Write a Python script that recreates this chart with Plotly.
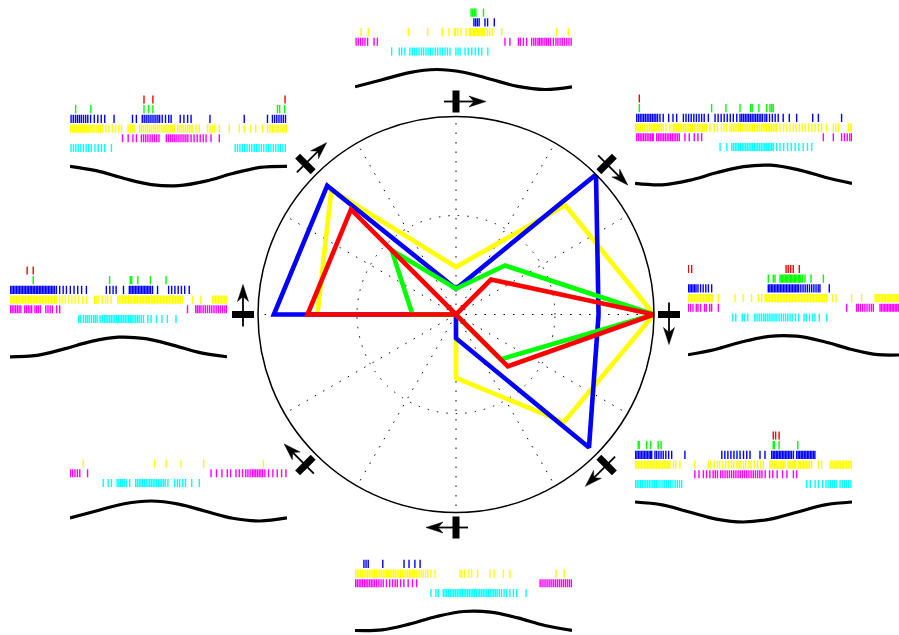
import math
import plotly.graph_objects as go

W, H = 899, 635

# ---------------- polar tuning curves ----------------
ANGLES = [0, 45, 90, 135, 180, 225, 270, 315]
R_YELLOW = [1.00, 0.78, 0.24, 0.89, 0.70, 0.00, 0.32, 0.77]
R_BLUE = [0.72, 1.00, 0.13, 0.92, 0.92, 0.00, 0.12, 0.95]
R_GREEN = [1.00, 0.35, 0.13, 0.46, 0.22, 0.00, 0.00, 0.32]
R_RED = [1.00, 0.25, 0.00, 0.75, 0.75, 0.00, 0.00, 0.37]

ROW_COLORS = ["#ff0000", "#00ff00", "#0000ff", "#ffff00", "#ff00ff", "#00ffff"]

# ---------------- spike rasters (time in % of sweep) ----------------
# top panel (stimulus at 90 deg)
P090_RED = []
P090_GREEN = [53.5, 54.2, 55.0, 55.7, 59.2]
P090_BLUE = [54.8, 55.6, 56.4, 57.2, 59.9, 61.1, 64.2]
P090_YELLOW = [2.8, 6.1, 24.6, 33.5, 40.2, 43.3, 45.8, 46.3, 47.3, 48.8, 51.2, 52.7, 53.3, 53.9, 54.5,
               55.1, 55.7, 56.3, 56.9, 57.5, 58.1, 58.7, 59.3, 59.9, 61.0, 62.0, 63.2, 67.6, 92.9, 98.3]
P090_MAGENTA = [0.5, 1.5, 2.6, 3.6, 4.6, 5.8, 8.8, 10.3, 69.1, 71.4, 75.3, 76.2, 77.6, 79.1, 81.4, 82.4,
                83.3, 84.3, 85.0, 85.8, 86.6, 87.5, 88.3, 89.2, 90.1, 91.4, 92.6, 93.5, 94.5, 95.5, 96.5,
                97.6, 98.6, 99.6]
P090_CYAN = [16.9, 20.4, 21.5, 23.0, 25.3, 26.4, 27.4, 28.5, 29.5, 30.6, 31.6, 32.7, 33.7, 34.8, 35.9,
             37.0, 38.1, 39.2, 40.3, 41.5, 42.6, 43.8, 46.5, 47.5, 48.4, 50.7, 52.2, 53.8, 55.4, 56.9,
             58.4, 61.2]

# top-left panel (135 deg)
P135_RED = [34.1, 38.2, 99.1]
P135_GREEN = [2.6, 9.6, 34.1, 36.2, 38.2, 95.6, 96.6, 98.9]
P135_BLUE = [0.5, 1.5, 2.5, 3.4, 4.3, 5.2, 6.2, 7.2, 8.2, 9.5, 11.2, 12.8, 14.4, 16.0, 20.3, 28.8, 30.6,
             33.3, 34.2, 35.1, 36.0, 36.9, 37.8, 38.7, 39.6, 40.5, 41.3, 42.5, 44.0, 45.5, 46.6, 50.8,
             52.5, 54.2, 55.8, 64.5, 80.3, 91.0, 93.3, 94.3, 95.3, 96.3, 97.3, 98.3, 99.3]
P135_YELLOW = [0.3, 1.2, 2.1, 3.0, 3.9, 4.8, 5.7, 6.6, 7.5, 8.4, 9.3, 10.2, 11.1, 12.0, 13.0, 14.0, 15.0,
               16.5, 18.0, 19.5, 21.0, 22.5, 23.7, 26.8, 27.8, 29.0, 29.8, 32.1, 33.0, 33.9, 34.8, 35.7,
               36.6, 37.5, 38.4, 39.3, 40.2, 41.1, 42.0, 42.9, 43.8, 44.7, 45.6, 46.5, 47.4, 48.2, 49.7,
               50.6, 51.5, 52.4, 53.3, 54.2, 55.1, 56.0, 56.6, 58.1, 59.6, 63.4, 64.5, 65.5, 66.5, 68.8,
               73.4, 78.0, 80.3, 83.3, 85.6, 88.7, 91.0, 92.2, 93.3, 94.5, 95.4, 96.3, 97.2, 98.1, 99.0,
               99.8]
P135_MAGENTA = [24.2, 26.8, 29.0, 30.6, 32.9, 33.9, 34.9, 35.9, 36.9, 37.9, 38.9, 39.9, 41.0, 44.4, 45.3,
                46.2, 47.1, 48.0, 48.9, 49.8, 50.7, 51.6, 52.5, 53.4, 54.3, 55.8, 57.2, 58.6, 60.0, 61.4,
                62.7, 65.0, 68.8]
P135_CYAN = [0.5, 1.6, 2.7, 3.8, 5.0, 6.2, 7.4, 8.6, 9.8, 11.5, 13.0, 14.5, 16.0, 19.1, 76.1, 77.2, 78.3,
             79.4, 80.5, 81.6, 82.7, 83.8, 84.9, 86.0, 87.1, 88.2, 89.3, 90.4, 91.5, 92.6, 93.7, 94.8,
             95.9, 97.0, 98.1, 99.2]

# top-right panel (45 deg)
P045_RED = [2.0]
P045_GREEN = [2.0, 35.3, 41.9, 48.4, 53.3, 54.0, 57.1, 60.7, 62.2, 63.0, 63.7]
P045_BLUE = [0.8, 1.6, 2.4, 3.2, 4.0, 4.8, 5.6, 6.4, 7.2, 8.0, 8.8, 9.6, 10.4, 11.5, 13.0, 15.5, 17.5,
             19.2, 22.3, 23.5, 24.7, 25.9, 27.1, 28.3, 29.5, 30.7, 31.9, 33.8, 36.9, 38.3, 39.7, 41.1,
             42.5, 43.9, 45.3, 46.9, 48.4, 49.2, 50.0, 50.8, 51.6, 52.4, 53.2, 54.0, 54.8, 55.6, 56.4,
             57.2, 58.0, 58.8, 59.9, 60.7, 62.0, 63.3, 64.6, 66.0, 68.3, 71.1, 74.5, 81.9, 84.5, 95.2]
P045_YELLOW = [0.3, 1.0, 1.8, 2.6, 3.4, 4.2, 5.0, 5.8, 6.6, 7.4, 8.2, 9.0, 9.8, 10.6, 11.4, 12.2, 13.0,
               14.3, 16.1, 17.6, 18.4, 19.2, 20.0, 20.8, 21.6, 22.4, 23.2, 24.0, 24.8, 25.6, 26.4, 27.2,
               28.0, 28.8, 29.6, 30.4, 31.2, 32.0, 33.0, 34.6, 36.5, 38.0, 39.8, 41.0, 42.3, 43.8, 44.6,
               45.4, 46.2, 47.0, 47.8, 48.6, 49.4, 50.2, 51.0, 51.8, 52.6, 53.4, 54.2, 55.0, 55.8, 56.6,
               57.4, 58.2, 59.0, 59.8, 60.6, 61.4, 62.2, 63.0, 63.8, 64.6, 65.3, 66.8, 68.5, 70.0, 71.4,
               72.9, 74.2, 75.8, 77.0, 78.5, 80.0, 81.5, 83.0, 84.5, 86.0, 88.3, 91.4, 92.5, 93.7, 98.3,
               99.1, 99.8]
P045_MAGENTA = [0.8, 1.6, 2.4, 3.2, 4.0, 4.8, 5.6, 6.4, 7.2, 8.0, 8.4, 10.0, 10.8, 11.6, 12.4, 13.2, 14.0,
                14.8, 15.6, 16.4, 17.2, 18.0, 18.8, 19.6, 20.4, 23.0, 25.0, 27.3, 29.0, 30.7, 86.8, 91.4,
                95.2, 96.5, 97.8, 99.0, 99.8]
P045_CYAN = [39.2, 42.3, 44.6, 45.4, 46.2, 47.0, 47.8, 48.6, 49.4, 50.2, 51.0, 51.8, 52.6, 53.4, 54.2,
             55.0, 55.8, 56.6, 57.4, 58.2, 59.0, 59.8, 60.6, 61.4, 62.2, 63.0, 63.7, 65.3, 66.8, 68.5,
             70.3, 72.0, 73.8, 75.5, 77.5, 79.5, 81.4]

# right panel (0 deg)
P000_RED = [0.2, 1.7, 45.2, 46.2, 47.3, 48.5, 51.3]
P000_GREEN = [37.0, 39.3, 40.1, 42.4, 43.0, 43.6, 44.2, 44.8, 45.4, 46.0, 46.6, 47.2, 47.8, 48.4, 49.0,
              49.6, 50.2, 50.8, 51.4, 52.0, 52.8, 53.9, 56.7, 62.4]
P000_BLUE = [0.2, 0.9, 1.6, 2.3, 3.0, 3.7, 4.6, 5.8, 7.0, 8.2, 9.4, 10.9, 37.0, 37.7, 38.4, 39.1, 39.8,
             40.5, 41.2, 41.9, 42.6, 43.3, 44.0, 44.7, 45.4, 46.1, 46.8, 47.5, 48.2, 48.9, 49.6, 50.3,
             51.0, 52.0, 53.0, 54.0, 55.0, 56.0, 57.0, 58.0, 59.0, 60.0, 60.8, 65.1]
P000_YELLOW = [0.2, 0.9, 1.6, 2.3, 3.0, 3.7, 4.4, 5.1, 5.8, 6.5, 7.2, 7.9, 8.6, 9.3, 10.0, 10.7, 11.4,
               14.0, 21.7, 25.5, 29.3, 32.4, 33.9, 35.5, 36.2, 36.9, 37.6, 38.3, 39.0, 39.7, 40.4, 41.1,
               41.8, 42.5, 43.2, 43.9, 44.6, 45.3, 46.0, 46.7, 47.4, 48.1, 48.8, 49.5, 50.2, 50.9, 51.6,
               52.3, 53.0, 53.7, 54.4, 55.1, 55.8, 56.5, 57.2, 57.9, 58.6, 59.3, 60.0, 60.7, 61.4, 62.1,
               62.8, 63.9, 66.7, 68.2, 75.4, 80.0, 86.2, 86.9, 87.6, 88.3, 89.0, 89.7, 90.4, 91.1, 91.8,
               92.5, 93.2, 93.9, 94.6, 95.3, 96.0, 96.9]
P000_MAGENTA = [0.2, 1.2, 2.3, 3.8, 4.6, 5.8, 7.6, 8.4, 10.0, 10.9, 14.0, 73.1, 77.7, 78.5, 79.5, 80.5,
                81.5, 82.5, 83.5, 84.5, 85.4, 88.5, 89.2, 89.9, 90.6, 91.3, 92.0, 92.7, 93.4, 94.1, 94.8,
                95.5, 96.2, 96.9]
P000_CYAN = [20.6, 22.0, 25.0, 26.0, 27.5, 30.8, 31.8, 32.8, 33.8, 34.8, 35.6, 36.5, 37.4, 38.3, 39.2,
             40.1, 41.0, 42.0, 43.0, 44.0, 45.0, 46.0, 47.0, 48.0, 49.5, 51.0, 53.5, 54.5, 56.0, 57.5,
             58.5, 60.5, 63.9]

# bottom-right panel (315 deg)
P315_RED = [63.7, 64.8, 66.4]
P315_GREEN = [1.5, 1.9, 5.4, 7.2, 10.7, 12.0, 63.7, 64.2, 66.4, 75.0]
P315_BLUE = [0.2, 0.9, 1.6, 2.3, 3.0, 3.7, 4.4, 5.1, 5.8, 6.5, 7.2, 7.7, 9.2, 10.0, 11.0, 12.0, 13.0,
             14.2, 15.5, 16.9, 23.0, 40.0, 41.4, 42.8, 44.2, 45.6, 47.0, 48.4, 50.0, 51.5, 53.0, 57.6,
             59.9, 63.0, 63.7, 64.4, 65.1, 65.8, 66.5, 67.2, 67.9, 68.6, 69.3, 70.0, 70.7, 71.4, 72.1,
             73.0, 74.5, 75.2, 75.9, 76.6, 77.3, 78.0, 78.7, 79.4, 80.1, 80.8, 81.5, 82.2, 82.9]
P315_YELLOW = [0.2, 0.9, 1.6, 2.3, 3.0, 3.7, 4.4, 5.1, 5.8, 6.5, 7.2, 7.9, 8.6, 9.3, 10.0, 10.7, 11.4,
               12.1, 12.8, 13.5, 14.2, 14.9, 15.6, 16.1, 17.7, 18.8, 20.7, 27.6, 33.8, 35.0, 36.5, 38.0,
               39.0, 40.5, 41.8, 43.0, 44.5, 45.5, 47.0, 48.0, 48.8, 50.0, 51.0, 52.5, 53.5, 55.0, 56.5,
               58.0, 59.1, 62.2, 62.9, 63.6, 64.3, 65.0, 65.7, 66.4, 67.1, 67.8, 68.5, 69.2, 70.6, 71.3,
               72.0, 72.7, 73.4, 74.1, 75.5, 76.2, 76.9, 77.6, 78.3, 79.0, 79.7, 80.4, 81.4, 84.5, 86.0,
               89.9, 90.6, 91.3, 92.0, 92.7, 93.4, 94.1, 94.8, 95.5, 96.2, 96.9, 97.6, 98.3, 99.0, 99.7]
P315_MAGENTA = [27.6, 29.5, 31.5, 33.0, 34.5, 36.0, 37.0, 38.0, 39.5, 40.5, 41.5, 42.5, 43.5, 44.5, 45.5,
                46.5, 47.5, 48.5, 49.5, 50.5, 51.5, 52.5, 53.5, 54.5, 55.5, 56.5, 57.5, 58.5, 60.0, 62.0,
                63.5, 65.5, 68.0, 70.0, 73.0, 74.5]
P315_CYAN = [0.2, 1.0, 1.8, 2.6, 3.4, 4.2, 5.0, 5.8, 6.6, 7.4, 8.2, 9.0, 9.8, 10.6, 11.5, 12.5, 13.5,
             14.5, 15.5, 16.5, 17.5, 18.5, 19.5, 20.5, 21.5, 79.1, 80.8, 83.0, 84.5, 86.5, 88.0, 89.0,
             90.0, 91.0, 92.0, 93.0, 94.5, 95.5, 96.5, 97.5, 98.5, 99.5]

# bottom panel (270 deg)
P270_RED = []
P270_GREEN = []
P270_BLUE = [4.1, 5.1, 6.1, 12.8, 22.6, 24.9, 27.6, 30.0]
P270_YELLOW = [0.2, 1.0, 1.8, 2.6, 3.4, 4.2, 5.0, 5.8, 6.6, 7.4, 8.2, 9.0, 9.8, 10.6, 11.4, 12.2, 13.0,
               13.8, 14.6, 15.4, 16.2, 17.0, 17.8, 18.6, 19.4, 20.2, 21.0, 21.8, 22.6, 23.4, 24.2, 25.0,
               25.8, 26.6, 27.4, 28.5, 29.5, 30.5, 31.5, 32.5, 33.5, 35.0, 36.9, 48.4, 49.2, 50.5, 52.5,
               53.8, 56.5, 62.2, 64.1, 68.4, 71.4, 92.6, 96.4]
P270_MAGENTA = [0.3, 1.1, 1.9, 2.7, 3.5, 4.3, 5.1, 5.9, 6.7, 7.5, 8.3, 9.1, 10.0, 11.0, 12.0, 13.0, 14.5,
                16.0, 17.3, 18.5, 19.5, 21.0, 22.5, 24.5, 26.5, 28.4, 85.3, 86.2, 87.1, 88.0, 88.9, 89.8,
                90.7, 91.6, 92.5, 93.4, 94.3, 95.2, 96.1, 97.0, 97.9, 98.8, 99.7]
P270_CYAN = [35.0, 37.3, 38.4, 40.7, 41.5, 42.3, 43.1, 43.9, 44.7, 45.5, 46.3, 47.1, 47.9, 48.7, 49.5,
             50.3, 51.1, 51.9, 52.7, 53.5, 54.3, 55.1, 55.9, 56.7, 57.5, 58.3, 59.1, 59.9, 60.7, 61.5,
             62.3, 63.1, 63.9, 64.7, 65.5, 66.5, 67.5, 68.7, 69.9, 71.4, 73.0, 74.5, 78.8]

# bottom-left panel (225 deg)
P225_RED = []
P225_GREEN = []
P225_BLUE = []
P225_YELLOW = [6.1, 39.0, 44.3, 51.2, 61.6, 89.1]
P225_MAGENTA = [0.3, 1.2, 2.3, 3.4, 4.5, 8.1, 65.0, 67.5, 70.0, 72.5, 74.0, 76.5, 78.0, 79.5, 81.0, 82.0,
                83.0, 84.0, 84.8, 85.6, 86.4, 87.2, 88.0, 88.8, 89.8, 91.5, 93.5, 95.5, 97.5, 99.5]
P225_CYAN = [15.3, 17.6, 19.1, 21.7, 22.5, 23.3, 24.1, 25.0, 26.0, 27.5, 30.3, 31.1, 31.9, 32.7, 33.5,
             34.3, 35.1, 35.9, 36.7, 37.5, 38.3, 39.1, 39.9, 40.7, 41.5, 42.3, 43.1, 43.9, 45.1, 48.2,
             49.5, 50.5, 52.0, 53.2, 56.1, 59.6]

# left panel (180 deg)
P180_RED = [7.9, 10.7]
P180_GREEN = [10.7, 45.9, 55.4, 56.1, 58.9, 64.7, 71.9]
P180_BLUE = [0.2, 0.9, 1.6, 2.3, 3.0, 3.7, 4.4, 5.1, 5.8, 6.5, 7.2, 7.9, 8.6, 9.3, 10.0, 10.7, 11.4, 12.1,
             12.8, 13.5, 14.2, 14.9, 15.6, 16.3, 17.0, 17.7, 18.4, 19.1, 19.8, 20.5, 21.4, 22.9, 24.5,
             26.0, 27.8, 29.5, 31.2, 33.0, 35.2, 44.4, 46.0, 47.5, 48.9, 52.3, 55.0, 55.7, 56.4, 57.1,
             57.8, 58.5, 59.2, 59.9, 60.6, 61.3, 62.0, 62.7, 63.4, 64.1, 64.8, 65.7, 68.0, 73.1, 74.5,
             76.0, 77.5, 79.0, 80.5, 82.6]
P180_YELLOW = [0.2, 0.9, 1.6, 2.3, 3.0, 3.7, 4.4, 5.1, 5.8, 6.5, 7.2, 7.9, 8.6, 9.3, 10.0, 10.7, 11.4,
               12.1, 12.8, 13.5, 14.2, 14.9, 15.6, 16.3, 17.0, 17.7, 18.4, 19.1, 19.8, 20.5, 21.4, 22.9,
               24.0, 25.5, 27.0, 28.5, 30.0, 31.5, 33.5, 35.2, 39.0, 40.0, 41.0, 42.5, 44.0, 45.0, 46.6,
               49.7, 50.4, 51.1, 51.8, 52.5, 53.2, 53.9, 54.6, 55.3, 56.0, 56.7, 57.4, 58.1, 58.8, 59.5,
               60.2, 60.9, 61.6, 62.3, 63.0, 63.7, 64.4, 65.1, 65.8, 66.5, 67.2, 67.9, 68.6, 69.3, 70.0,
               70.7, 71.4, 72.1, 72.8, 73.5, 74.2, 74.9, 75.6, 76.3, 77.0, 77.7, 78.4, 79.5, 84.1, 87.9,
               93.3, 94.0, 94.7, 95.4, 96.1, 96.8, 97.5, 98.2, 98.9, 99.6]
P180_MAGENTA = [0.3, 1.0, 1.8, 2.6, 3.4, 4.2, 5.0, 6.8, 7.6, 8.4, 9.2, 10.0, 11.5, 12.3, 13.1, 14.0, 16.5,
                17.5, 18.5, 19.5, 21.5, 22.9, 81.8, 85.6, 86.4, 87.2, 88.0, 89.0, 90.0, 91.0, 92.0, 93.0,
                94.0, 95.0, 96.0, 97.0, 98.0, 99.0, 99.8]
P180_CYAN = [31.7, 32.5, 33.8, 34.8, 35.6, 36.5, 37.5, 38.5, 39.3, 40.1, 41.5, 42.5, 43.5, 44.3, 45.1,
             45.9, 46.7, 47.5, 48.3, 49.1, 49.9, 50.7, 51.5, 52.3, 53.1, 53.9, 54.7, 55.5, 56.3, 57.1,
             57.9, 58.7, 59.5, 60.5, 61.5, 63.5, 65.0, 67.5, 70.0, 72.5, 76.5]

# stimulus waveforms: samples (relative units, +1 = peak) at WAVE_T
WAVE_T = [0, 12.5, 25, 37.5, 50, 62.5, 75, 87.5, 100]
WAVE_090 = [-0.73, -0.03, 0.69, 1.00, 0.73, 0.03, -0.69, -1.00, -0.73]
WAVE_045 = [-0.84, -0.98, -0.54, 0.22, 0.84, 0.98, 0.54, -0.22, -0.84]
WAVE_000 = [-0.93, -0.40, 0.37, 0.92, 0.93, 0.40, -0.37, -0.92, -0.93]
WAVE_315 = [1.00, 0.71, 0.00, -0.71, -1.00, -0.71, 0.00, 0.71, 1.00]
WAVE_270 = [-0.95, -0.89, -0.31, 0.45, 0.95, 0.89, 0.31, -0.45, -0.95]
WAVE_225 = [-0.69, 0.03, 0.73, 1.00, 0.69, -0.03, -0.73, -1.00, -0.69]
WAVE_180 = [-0.98, -0.83, -0.19, 0.56, 0.98, 0.83, 0.19, -0.56, -0.98]
WAVE_135 = [0.97, 0.51, -0.25, -0.86, -0.97, -0.51, 0.25, 0.86, 0.97]

PANELS = [
    (90, [P090_RED, P090_GREEN, P090_BLUE, P090_YELLOW, P090_MAGENTA, P090_CYAN], WAVE_090),
    (45, [P045_RED, P045_GREEN, P045_BLUE, P045_YELLOW, P045_MAGENTA, P045_CYAN], WAVE_045),
    (0, [P000_RED, P000_GREEN, P000_BLUE, P000_YELLOW, P000_MAGENTA, P000_CYAN], WAVE_000),
    (315, [P315_RED, P315_GREEN, P315_BLUE, P315_YELLOW, P315_MAGENTA, P315_CYAN], WAVE_315),
    (270, [P270_RED, P270_GREEN, P270_BLUE, P270_YELLOW, P270_MAGENTA, P270_CYAN], WAVE_270),
    (225, [P225_RED, P225_GREEN, P225_BLUE, P225_YELLOW, P225_MAGENTA, P225_CYAN], WAVE_225),
    (180, [P180_RED, P180_GREEN, P180_BLUE, P180_YELLOW, P180_MAGENTA, P180_CYAN], WAVE_180),
    (135, [P135_RED, P135_GREEN, P135_BLUE, P135_YELLOW, P135_MAGENTA, P135_CYAN], WAVE_135),
]

# ---------------- layout constants (pixels) ----------------
PANEL_X0 = {90: 355, 45: 635, 0: 688, 315: 635, 270: 355, 225: 70, 180: 10, 135: 70}
PANEL_WC = {90: 79.5, 45: 175, 0: 345.5, 315: 512, 270: 621, 225: 511, 180: 347, 135: 176}
PANEL_W = 217.0
ROW = 9.7           # px per raster row
WAVE_OFF = 7.89     # wave centre below red row, in rows
WAVE_AMP = 1.03     # wave amplitude in rows
TICK_HALF = 0.42
CX, CY, R = 456.0, 314.5, 198.0
ARROW_R = 213.0

fig = go.Figure()

for k, (ang, rows, wave) in enumerate(PANELS):
    idx = k + 1
    xa = "x" if idx == 1 else f"x{idx}"
    ya = "y" if idx == 1 else f"y{idx}"
    for i, (spikes, col) in enumerate(zip(rows, ROW_COLORS)):
        if not spikes:
            continue
        xs, ys = [], []
        for t in spikes:
            xs += [t, t, None]
            ys += [-i - TICK_HALF, -i + TICK_HALF, None]
        fig.add_trace(go.Scatter(x=xs, y=ys, mode="lines", line=dict(color=col, width=1.4),
                                 xaxis=xa, yaxis=ya, hoverinfo="skip", showlegend=False))
    fig.add_trace(go.Scatter(x=WAVE_T, y=[-WAVE_OFF + WAVE_AMP * v for v in wave], mode="lines",
                             line=dict(color="black", width=3.2, shape="spline", smoothing=1.0),
                             xaxis=xa, yaxis=ya, hoverinfo="skip", showlegend=False))
    x0 = PANEL_X0[ang]
    wc = PANEL_WC[ang]
    x1 = min(x0 + PANEL_W, W)
    top_px = max(wc - (WAVE_OFF + 0.6) * ROW, 0)
    bot_px = min(wc + 1.8 * ROW, H)
    y_at = lambda p: -WAVE_OFF - (p - wc) / ROW
    sfx = "" if idx == 1 else str(idx)
    fig.layout["xaxis" + sfx] = dict(domain=[x0 / W, x1 / W], range=[0, (x1 - x0) / PANEL_W * 100],
                                     visible=False, fixedrange=True, anchor=ya)
    fig.layout["yaxis" + sfx] = dict(domain=[1 - bot_px / H, 1 - top_px / H],
                                     range=[y_at(bot_px), y_at(top_px)], visible=False, fixedrange=True,
                                     anchor=xa)

# ---------------- polar plot ----------------
for rr, col in [(R_YELLOW, "#ffff00"), (R_BLUE, "#0000ff"), (R_GREEN, "#00ff00"), (R_RED, "#ff0000")]:
    fig.add_trace(go.Scatterpolar(r=rr + rr[:1], theta=ANGLES + ANGLES[:1], mode="lines",
                                  line=dict(color=col, width=4.6), hoverinfo="skip", showlegend=False))

fig.update_layout(
    polar=dict(
        domain=dict(x=[(CX - R) / W, (CX + R) / W], y=[(H - CY - R) / H, (H - CY + R) / H]),
        bgcolor="white",
        radialaxis=dict(range=[0, 1], tickvals=[0.5], showticklabels=False, ticks="", showline=False,
                        gridcolor="black", griddash="1.5px,8px", gridwidth=1.2),
        angularaxis=dict(tickvals=list(range(0, 360, 30)), showticklabels=False, ticks="",
                         showline=True, linecolor="black", linewidth=1.5,
                         gridcolor="black", griddash="1.5px,8px", gridwidth=1.2),
    )
)

# ---------------- stimulus arrows (moving bars) ----------------
def to_paper(px, py):
    return px / W, 1 - py / H

shapes = []
for ang in ANGLES:
    th = math.radians(ang)
    cx = CX + ARROW_R * math.cos(th)
    cy = CY - ARROW_R * math.sin(th)
    ph = th - math.pi / 2
    ux, uy = math.cos(ph), -math.sin(ph)
    vx, vy = math.cos(th), -math.sin(th)
    wx, wy = -uy, ux
    # bar
    bx0, by0 = to_paper(cx - 11 * vx, cy - 11 * vy)
    bx1, by1 = to_paper(cx + 11 * vx, cy + 11 * vy)
    shapes.append(dict(type="line", xref="paper", yref="paper", x0=bx0, y0=by0, x1=bx1, y1=by1,
                       line=dict(color="black", width=7)))
    # shaft
    tx, ty = cx + 30 * ux, cy + 30 * uy
    sx0, sy0 = to_paper(cx - 12 * ux, cy - 12 * uy)
    nx, ny = tx - 12 * ux, ty - 12 * uy
    sx1, sy1 = to_paper(nx, ny)
    shapes.append(dict(type="line", xref="paper", yref="paper", x0=sx0, y0=sy0, x1=sx1, y1=sy1,
                       line=dict(color="black", width=1.8)))
    # head
    pts = [(tx, ty),
           (tx - 17 * ux + 5.5 * wx, ty - 17 * uy + 5.5 * wy),
           (nx, ny),
           (tx - 17 * ux - 5.5 * wx, ty - 17 * uy - 5.5 * wy)]
    pp = [to_paper(a, b) for a, b in pts]
    path = "M" + " L".join(f"{a:.5f},{b:.5f}" for a, b in pp) + " Z"
    shapes.append(dict(type="path", xref="paper", yref="paper", path=path,
                       fillcolor="black", line=dict(color="black", width=0.5)))

fig.update_layout(
    shapes=shapes,
    width=W, height=H,
    margin=dict(l=0, r=0, t=0, b=0),
    paper_bgcolor="white", plot_bgcolor="rgba(0,0,0,0)",
    showlegend=False,
)

fig.write_html("out.html", config={"displayModeBar": False},
               post_script="document.body.style.margin='0';")
